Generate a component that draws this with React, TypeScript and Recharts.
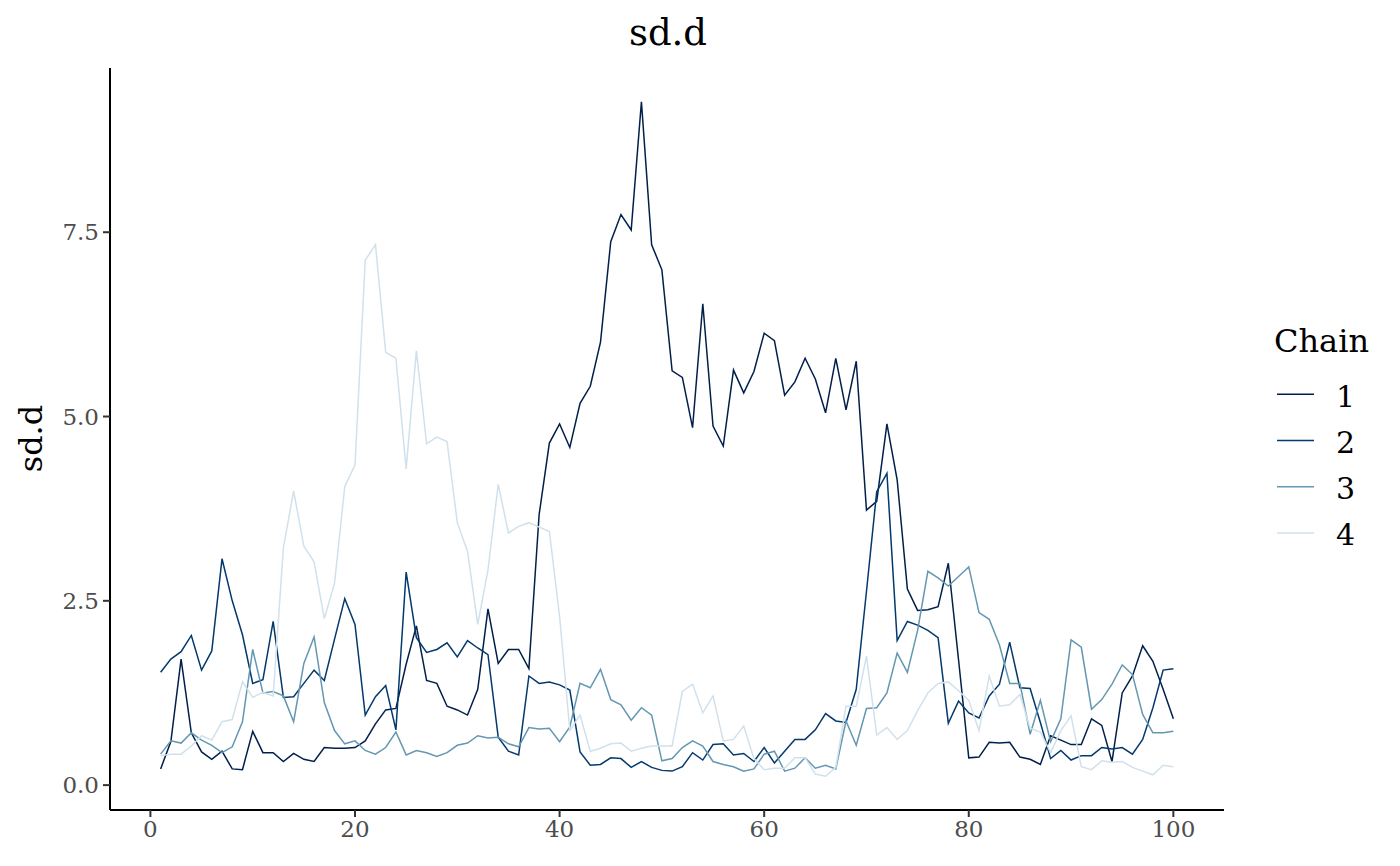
import React from "react";
import { LineChart, Line, XAxis, YAxis } from "recharts";

const iterations: number[] = Array.from({ length: 100 }, (_, i) => i + 1);

const chain1: number[] = [
  0.22, 0.59, 1.71, 0.71, 0.45, 0.35, 0.46, 0.22, 0.21, 0.73,
  0.44, 0.44, 0.32, 0.43, 0.35, 0.32, 0.51, 0.50, 0.50, 0.51,
  0.60, 0.83, 1.02, 1.04, 1.64, 2.16, 1.42, 1.38, 1.07, 1.02,
  0.95, 1.30, 2.39, 1.65, 1.84, 1.84, 1.58, 3.67, 4.64, 4.90,
  4.58, 5.18, 5.41, 6.01, 7.37, 7.74, 7.53, 9.27, 7.33, 6.99,
  5.62, 5.53, 4.85, 6.53, 4.87, 4.60, 5.63, 5.32, 5.61, 6.13,
  6.03, 5.29, 5.47, 5.79, 5.51, 5.05, 5.79, 5.09, 5.75, 3.73,
  3.85, 4.90, 4.14, 2.66, 2.37, 2.38, 2.42, 3.01, 1.70, 0.37,
  0.38, 0.58, 0.57, 0.58, 0.38, 0.35, 0.28, 0.67, 0.61, 0.55,
  0.55, 0.90, 0.81, 0.32, 1.25, 1.48, 1.89, 1.68, 1.30, 0.90,
];

const chain2: number[] = [
  1.53, 1.71, 1.81, 2.03, 1.56, 1.82, 3.07, 2.50, 2.04, 1.38,
  1.43, 2.22, 1.19, 1.20, 1.38, 1.56, 1.42, 1.98, 2.53, 2.18,
  0.95, 1.20, 1.35, 0.75, 2.89, 2.00, 1.80, 1.84, 1.93, 1.74,
  1.96, 1.86, 1.77, 0.65, 0.46, 0.41, 1.48, 1.38, 1.40, 1.36,
  1.29, 0.45, 0.27, 0.28, 0.37, 0.36, 0.24, 0.32, 0.24, 0.20,
  0.19, 0.25, 0.44, 0.34, 0.55, 0.56, 0.41, 0.43, 0.32, 0.51,
  0.30, 0.46, 0.62, 0.62, 0.75, 0.97, 0.87, 0.85, 1.30, 2.63,
  3.98, 4.23, 1.96, 2.22, 2.17, 2.10, 2.00, 0.84, 1.14, 0.98,
  0.91, 1.21, 1.37, 1.94, 1.32, 1.31, 0.85, 0.36, 0.47, 0.34,
  0.40, 0.40, 0.51, 0.49, 0.51, 0.42, 0.62, 1.05, 1.56, 1.58,
];

const chain3: number[] = [
  0.42, 0.60, 0.57, 0.71, 0.61, 0.54, 0.44, 0.52, 0.86, 1.84,
  1.25, 1.27, 1.21, 0.86, 1.65, 2.01, 1.12, 0.74, 0.56, 0.60,
  0.47, 0.42, 0.51, 0.72, 0.41, 0.47, 0.44, 0.39, 0.44, 0.54,
  0.57, 0.67, 0.64, 0.65, 0.56, 0.52, 0.78, 0.76, 0.77, 0.59,
  0.79, 1.38, 1.32, 1.57, 1.16, 1.09, 0.88, 1.05, 0.95, 0.33,
  0.36, 0.51, 0.60, 0.53, 0.32, 0.28, 0.25, 0.19, 0.22, 0.42,
  0.46, 0.19, 0.23, 0.37, 0.23, 0.27, 0.22, 0.87, 0.54, 1.04,
  1.05, 1.25, 1.79, 1.53, 2.10, 2.90, 2.81, 2.70, 2.83, 2.96,
  2.34, 2.25, 1.90, 1.38, 1.38, 0.69, 1.15, 0.59, 0.90, 1.97,
  1.87, 1.03, 1.16, 1.37, 1.63, 1.50, 0.96, 0.71, 0.71, 0.73,
];

const chain4: number[] = [
  0.40, 0.42, 0.42, 0.53, 0.67, 0.61, 0.86, 0.89, 1.40, 1.19,
  1.26, 1.21, 3.22, 3.99, 3.24, 3.03, 2.26, 2.74, 4.05, 4.34,
  7.12, 7.33, 5.87, 5.79, 4.29, 5.89, 4.63, 4.72, 4.66, 3.56,
  3.17, 2.18, 2.92, 4.08, 3.42, 3.51, 3.56, 3.50, 3.44, 2.29,
  0.74, 0.95, 0.46, 0.50, 0.56, 0.57, 0.46, 0.50, 0.53, 0.53,
  0.53, 1.27, 1.37, 0.98, 1.21, 0.60, 0.62, 0.80, 0.36, 0.21,
  0.23, 0.23, 0.37, 0.37, 0.15, 0.12, 0.24, 1.07, 1.07, 1.75,
  0.68, 0.78, 0.62, 0.74, 1.01, 1.25, 1.38, 1.40, 1.28, 1.15,
  0.74, 1.48, 1.07, 1.09, 1.23, 0.77, 0.72, 0.44, 0.74, 0.94,
  0.25, 0.21, 0.33, 0.31, 0.32, 0.24, 0.19, 0.14, 0.27, 0.25,
];

const chainNames: string[] = ["1", "2", "3", "4"];
const chainColors: string[] = ["#011f4b", "#03396c", "#6497b1", "#d1e1ec"];
const xTicks: number[] = [0, 20, 40, 60, 80, 100];
const yTicks: number[] = [0, 2.5, 5, 7.5];
const titleText = "sd.d";
const yLabelText = "sd.d";
const legendTitle = "Chain";

const series = [chain1, chain2, chain3, chain4];
const data = iterations.map((it, i) => ({
  iter: it,
  c1: chain1[i],
  c2: chain2[i],
  c3: chain3[i],
  c4: chain4[i],
}));

const allVals = series.flat();
const yMin = Math.min(...allVals);
const yMax = Math.max(...allVals);
const yPad = (yMax - yMin) * 0.05;
const xMin = iterations[0];
const xMax = iterations[iterations.length - 1];
const xPad = (xMax - xMin) * 0.05;

const FONT = "'DejaVu Serif', serif";

export default function App() {
  return (
    <div style={{ position: "absolute", left: 0, top: 0, width: 1400, height: 866, background: "#fff", fontFamily: FONT }}>
      <LineChart
        width={1400}
        height={866}
        data={data}
        margin={{ top: 68, right: 176, left: 0, bottom: 0 }}
      >
        <XAxis
          type="number"
          dataKey="iter"
          domain={[xMin - xPad, xMax + xPad]}
          ticks={xTicks}
          allowDataOverflow
          height={56}
          axisLine={{ stroke: "#000", strokeWidth: 2 }}
          tickLine={{ stroke: "#333", strokeWidth: 2 }}
          tickSize={7}
          tick={{ fill: "#4d4d4d", fontSize: 23, fontFamily: FONT, dy: 2 }}
        />
        <YAxis
          type="number"
          domain={[yMin - yPad, yMax + yPad]}
          ticks={yTicks}
          allowDataOverflow
          width={110}
          axisLine={{ stroke: "#000", strokeWidth: 2 }}
          tickLine={{ stroke: "#333", strokeWidth: 2 }}
          tickSize={7}
          tickFormatter={(v: number) => v.toFixed(1)}
          tick={{ fill: "#4d4d4d", fontSize: 23, fontFamily: FONT, dx: -2 }}
        />
        {["c1", "c2", "c3", "c4"].map((k, i) => (
          <Line
            key={k}
            type="linear"
            dataKey={k}
            stroke={chainColors[i]}
            strokeWidth={1.5}
            dot={false}
            activeDot={false}
            isAnimationActive={false}
          />
        ))}
      </LineChart>
      <svg
        width={1400}
        height={866}
        style={{ position: "absolute", left: 0, top: 0, pointerEvents: "none" }}
        fontFamily={FONT}
      >
        <text x={668} y={45} textAnchor="middle" fontSize={37} fill="#000">{titleText}</text>
        <text x={42} y={438.5} textAnchor="middle" fontSize={32} fill="#000" transform="rotate(-90 42 438.5)">{yLabelText}</text>
        <text x={1274} y={351.5} fontSize={32} fill="#000">{legendTitle}</text>
        {chainNames.map((n, i) => {
          const cy = 394.3 + i * 46.2;
          return (
            <g key={n}>
              <line x1={1277} x2={1314} y1={cy} y2={cy} stroke={chainColors[i]} strokeWidth={1.5} />
              <text x={1336} y={cy + 12.3} fontSize={30} fill="#000">{n}</text>
            </g>
          );
        })}
      </svg>
    </div>
  );
}
